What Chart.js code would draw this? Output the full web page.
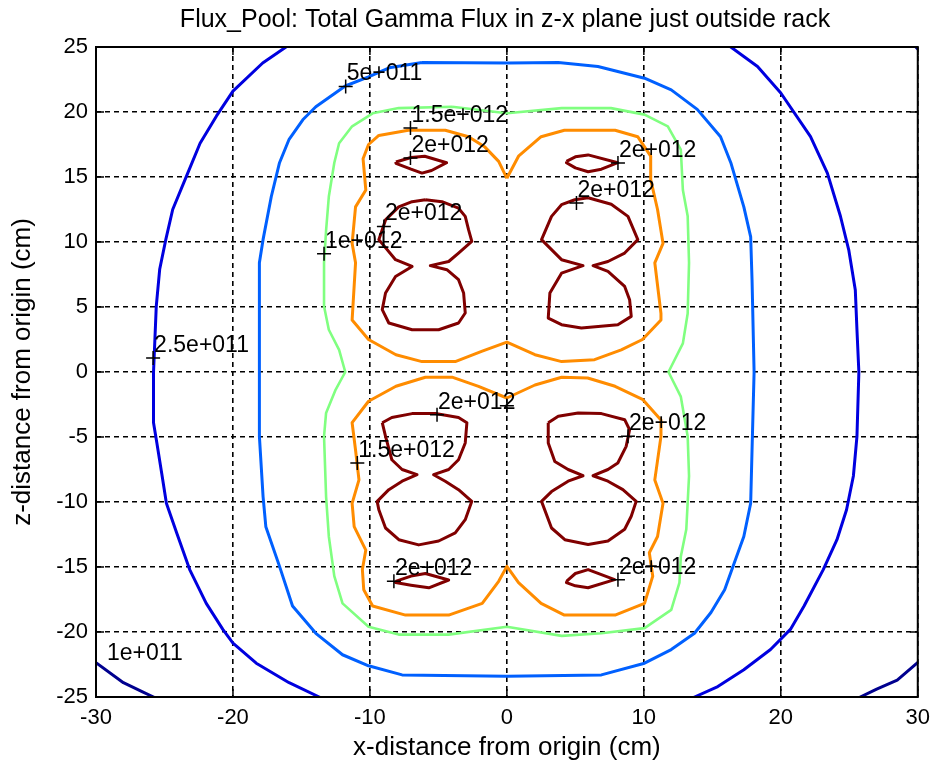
<!DOCTYPE html>
<html>
<head>
<meta charset="utf-8">
<title>Flux_Pool</title>
<script src="https://cdn.jsdelivr.net/npm/chart.js@4.4.1/dist/chart.umd.min.js"></script>
<style>
	html, body { margin: 0; padding: 0; background: #fff; }
	#wrap { width: 938px; height: 772px; }
</style>
</head>
<body>
<div id="wrap"><canvas id="fluxChart" width="938" height="772"></canvas></div>
<script>
// contour levels and tick values
const levels = [1e11, 2.5e11, 5e11, 1e12, 1.5e12, 2e12];
const xTickValues = [-30, -20, -10, 0, 10, 20, 30];
const yTickValues = [-25, -20, -15, -10, -5, 0, 5, 10, 15, 20, 25];

// contour paths, [x, z] in cm
const contour1e11 = [
	[[-30.5, -22.0], [-29.95, -22.4], [-28.0, -23.9], [-26.6, -24.6], [-25.8, -25.0], [-25.3, -25.3]],
	[[25.3, -25.3], [25.8, -25.0], [27.0, -24.4], [28.5, -23.7], [30.05, -22.3], [30.6, -21.8]],
	[[29.6, 25.3], [30.3, 24.5]]
];
const contour2_5e11 = [
	[[-15.6, 25.4], [-16.13, 25.0], [-17.83, 23.77], [-20.0, 21.6], [-21.2, 19.7], [-22.4, 17.6], [-23.4, 15.05],
	 [-24.4, 12.5], [-24.9, 10.2], [-25.35, 7.9], [-25.6, 5.05], [-25.7, 2.5], [-25.8, 0], [-25.8, -3.9],
	 [-25.55, -5.5], [-25.2, -7.8], [-24.86, -10.1], [-24.1, -12.4], [-23.16, -15.2], [-21.95, -17.8],
	 [-20.74, -19.8], [-20.0, -20.85], [-18.3, -22.4], [-15.9, -23.9], [-13.7, -25.0], [-13.0, -25.4]],
	[[15.9, 25.4], [16.35, 25.0], [18.3, 23.5], [20.0, 21.46], [22.17, 18.1], [23.4, 15.3], [24.35, 12.0],
	 [24.96, 9.4], [25.44, 6.3], [25.56, 3.25], [25.7, 0], [25.56, -4.95], [25.3, -8.0], [24.8, -10.6],
	 [24.1, -12.9], [23.1, -15.2], [21.7, -18.0], [20.7, -19.8], [19.25, -21.35], [17.3, -22.9],
	 [15.4, -24.2], [13.7, -25.0], [13.0, -25.4]]
];
const contour5e11 = [
	[[-6.2, 23.8], [0.1, 23.77], [3.75, 23.8], [6.65, 23.5], [10.05, 22.6], [12.0, 21.7], [13.9, 20.2],
	 [15.6, 18.1], [16.35, 16.1], [17.3, 12.7], [17.8, 10.4], [17.9, 7.1], [18.05, 0], [17.9, -6.0],
	 [17.8, -10.1], [17.3, -12.65], [16.6, -14.7], [15.9, -16.75], [14.9, -18.5], [13.7, -20.1],
	 [12.0, -21.35], [10.05, -22.4], [6.9, -23.3], [0, -23.4], [-7.65, -23.3], [-10.1, -22.6],
	 [-12.0, -21.75], [-13.95, -20.1], [-15.65, -18.0], [-16.6, -14.95], [-17.6, -11.9], [-17.8, -9.6],
	 [-18.07, -4.95], [-18.07, 0], [-18.07, 8.4], [-17.8, 10.2], [-17.2, 13.5], [-16.6, 16.1],
	 [-15.9, 17.9], [-14.9, 19.4], [-13.95, 20.4], [-11.8, 22.0], [-10.1, 22.7], [-8.6, 23.4], [-6.2, 23.8]]
];
const contour1e12 = [
	[[-4.0, 20.4], [-7.9, 20.3], [-9.8, 19.9], [-11.3, 18.9], [-12.25, 17.6], [-12.6, 16.1], [-13.0, 13.5],
	 [-13.2, 10.9], [-13.35, 8.4], [-13.35, 5.05], [-13.0, 3.25], [-12.25, 1.7], [-11.8, 0], [-12.5, -1.35],
	 [-13.2, -3.15], [-13.35, -4.95], [-13.2, -9.6], [-13.0, -12.65], [-12.6, -15.7], [-12.0, -17.8],
	 [-10.1, -19.6], [-7.9, -20.2], [-4.25, -20.2], [0, -19.6], [4.0, -20.3], [6.9, -20.1], [10.05, -19.7],
	 [12.0, -18.3], [12.6, -16.2], [12.7, -14.2], [13.1, -12.1], [13.3, -8.0], [13.2, -4.95], [12.7, -1.9],
	 [11.8, 0], [12.85, 2.2], [13.2, 4.5], [13.3, 8.4], [13.2, 12.0], [12.85, 14.0], [12.7, 17.1],
	 [11.75, 18.9], [10.05, 19.8], [7.6, 20.3], [4.0, 20.3], [0, 19.9], [-4.0, 20.4]]
];
const contour1_5e12 = [
	[[0, 14.9], [-0.6, 16.2], [-1.6, 17.3], [-2.8, 18.1], [-4.5, 18.6], [-7.2, 18.6], [-9.35, 18.2],
	 [-10.1, 17.5], [-10.5, 16.4], [-10.3, 14.0], [-11.05, 12.7], [-11.3, 9.9], [-11.05, 8.4], [-11.3, 4.0],
	 [-10.1, 2.5], [-8.1, 1.33], [-6.2, 0.8], [-3.77, 0.8], [-1.8, 1.6], [0, 2.3], [2.05, 1.33], [4.0, 0.8],
	 [6.4, 0.95], [8.35, 1.7], [9.9, 2.5], [11.25, 4.0], [11.25, 4.5], [10.8, 8.4], [11.4, 9.9], [11.0, 12.5],
	 [10.5, 14.8], [10.5, 16.6], [9.55, 18.1], [7.9, 18.6], [4.2, 18.6], [2.5, 18.1], [0.85, 16.6], [0, 14.9]],
	[[0, -2.0], [-2.07, -1.1], [-4.0, -0.4], [-5.95, -0.4], [-8.1, -1.1], [-10.1, -2.25], [-11.3, -3.9],
	 [-11.05, -6.0], [-10.8, -8.3], [-11.3, -10.1], [-11.15, -11.9], [-10.3, -13.7], [-10.55, -15.2],
	 [-10.45, -16.75], [-9.8, -18.0], [-7.4, -18.7], [-4.25, -18.7], [-1.8, -17.8], [-0.6, -16.1],
	 [0, -14.95], [0.85, -16.2], [2.5, -17.8], [4.2, -18.7], [7.9, -18.7], [10.05, -17.8], [10.65, -15.7],
	 [10.4, -13.9], [11.0, -12.65], [11.4, -10.1], [10.8, -8.3], [11.25, -4.95], [11.25, -3.7], [9.9, -2.1],
	 [7.9, -1.1], [5.9, -0.46], [4.0, -0.4], [2.05, -1.0], [0, -2.0]]
];
const contour2e12 = [
	// upper pair
	[[-8.1, 16.15], [-7.0, 16.5], [-6.0, 16.6], [-4.4, 16.1], [-5.5, 15.5], [-6.2, 15.3], [-7.0, 15.6], [-8.1, 16.05], [-8.1, 16.15]],
	[[4.35, 16.2], [5.0, 16.55], [5.93, 16.7], [8.1, 16.1], [6.9, 15.6], [5.93, 15.4], [5.0, 15.7], [4.35, 16.1], [4.35, 16.2]],
	[[-5.95, 13.25], [-4.74, 13.1], [-3.53, 12.6], [-3.04, 11.97], [-2.8, 10.95], [-2.56, 10.05], [-3.53, 9.15],
	 [-4.25, 8.5], [-5.59, 8.18], [-4.38, 7.87], [-3.53, 7.1], [-3.16, 6.08], [-3.04, 4.54], [-3.53, 3.77],
	 [-4.98, 3.25], [-6.92, 3.25], [-8.62, 3.77], [-9.1, 4.8], [-8.86, 6.08], [-8.13, 7.35], [-6.92, 8.12],
	 [-8.13, 8.64], [-9.35, 10.18], [-8.86, 11.7], [-7.9, 12.7], [-6.92, 13.1], [-5.95, 13.25]],
	[[5.93, 13.4], [7.62, 12.9], [8.84, 11.97], [9.56, 10.18], [8.6, 9.15], [7.38, 8.5], [6.29, 8.18],
	 [7.38, 7.74], [8.6, 6.58], [8.96, 5.56], [9.08, 4.28], [8.1, 3.64], [5.44, 3.38], [3.99, 3.64],
	 [3.02, 4.15], [3.14, 6.08], [3.99, 7.6], [5.56, 8.18], [3.99, 8.64], [2.53, 10.18], [3.26, 11.97],
	 [3.99, 12.87], [4.96, 13.25], [5.93, 13.4]],
	// lower pair
	[[-9.1, -3.9], [-8.4, -3.5], [-6.92, -3.2], [-5.22, -3.2], [-3.53, -3.5], [-2.92, -3.9], [-3.04, -5.46],
	 [-3.53, -6.75], [-4.25, -7.5], [-5.35, -7.9], [-4.5, -8.4], [-3.53, -9.05], [-2.56, -9.95], [-3.04, -11.36],
	 [-3.77, -12.38], [-4.98, -13.0], [-6.44, -13.3], [-7.89, -12.9], [-8.86, -12.0], [-9.35, -10.6],
	 [-9.47, -9.95], [-8.62, -9.05], [-7.65, -8.4], [-6.56, -7.9], [-7.65, -7.5], [-8.4, -6.75],
	 [-8.86, -4.95], [-9.1, -3.9]],
	[[3.02, -3.9], [3.75, -3.4], [5.2, -3.15], [6.9, -3.2], [8.6, -3.67], [8.96, -4.44], [8.71, -5.72],
	 [8.1, -7.0], [7.38, -7.5], [6.29, -7.98], [7.38, -8.4], [8.47, -9.05], [9.44, -9.95], [9.08, -11.1],
	 [8.6, -12.1], [7.38, -13.0], [5.93, -13.27], [4.23, -12.9], [3.26, -12.0], [2.53, -9.95], [3.26, -9.2],
	 [4.47, -8.4], [5.56, -7.98], [4.47, -7.5], [3.5, -6.88], [3.02, -5.46], [3.02, -3.9]],
	[[-8.13, -16.1], [-7.0, -15.7], [-5.95, -15.5], [-4.25, -16.0], [-5.7, -16.6], [-7.0, -16.4], [-8.13, -16.2], [-8.13, -16.1]],
	[[4.35, -16.1], [5.0, -15.5], [5.93, -15.2], [7.87, -15.97], [5.93, -16.6], [5.0, -16.45], [4.35, -16.2], [4.35, -16.1]]
];
const contours = [contour1e11, contour2_5e11, contour5e11, contour1e12, contour1_5e12, contour2e12];

// clabel markers (+) and their texts
const markerX = [-11.77, -7.04, -7.04, -8.98, -13.35, -25.83, 8.11, 5.08, -5.1, 8.84, -10.92, -8.25, 8.11, 0];
const markerY = [21.97, 18.77, 16.46, 11.2, 9.1, 1.08, 16.08, 13.0, -3.28, -4.95, -7.0, -16.1, -15.98, -2.6];
const labelText = ['5e+011', '1.5e+012', '2e+012', '2e+012', '1e+012', '2.5e+011', '2e+012', '2e+012',
	'2e+012', '2e+012', '1.5e+012', '2e+012', '2e+012', '1e+011'];
const labelX = [-11.77, -7.04, -7.04, -8.98, -13.35, -25.83, 8.11, 5.08, -5.1, 8.84, -10.92, -8.25, 8.11, -29.27];
const labelY = [21.97, 18.77, 16.46, 11.2, 9.1, 1.08, 16.08, 13.0, -3.28, -4.95, -7.0, -16.1, -15.98, -22.6];

// jet colours for the six levels
const levelColors = ['#00008f', '#0000df', '#0060ff', '#80ff80', '#ff8c00', '#800000'];
const FONT = "'Liberation Sans', Arial, Helvetica, sans-serif";

let datasets = [{
	label: 'labels',
	data: markerX.map((x, i) => ({x: x, y: markerY[i]})),
	showLine: false,
	pointStyle: 'cross',
	pointRadius: 7,
	borderColor: '#000',
	borderWidth: 1.5
}];
for (let k = levels.length - 1; k >= 0; k--) {
	contours[k].forEach(function (path) {
		datasets.push({
			label: levels[k].toExponential(),
			data: path.map(p => ({x: p[0], y: p[1]})),
			showLine: true,
			pointRadius: 0,
			borderColor: levelColors[k],
			borderWidth: k === 3 ? 2.6 : 3,
			borderJoinStyle: 'round',
			tension: 0
		});
	});
}

// title, axes box with inner ticks, contour labels
const fluxDecor = {
	id: 'fluxDecor',
	afterDatasetsDraw(chart) {
		const ctx = chart.ctx;
		const a = chart.chartArea;
		const xs = chart.scales.x, ys = chart.scales.y;
		ctx.save();
		ctx.beginPath();
		ctx.rect(a.left, a.top, a.right - a.left, a.bottom - a.top);
		ctx.clip();
		ctx.fillStyle = '#000';
		ctx.font = '23px ' + FONT;
		ctx.textAlign = 'left';
		ctx.textBaseline = 'alphabetic';
		labelText.forEach(function (t, i) {
			ctx.fillText(t, xs.getPixelForValue(labelX[i]) + 1, ys.getPixelForValue(labelY[i]) - 6);
		});
		ctx.restore();

		ctx.save();
		ctx.strokeStyle = '#000';
		ctx.lineWidth = 2;
		ctx.strokeRect(a.left, a.top, a.right - a.left, a.bottom - a.top);
		ctx.lineWidth = 1.5;
		ctx.beginPath();
		xTickValues.forEach(function (v) {
			const px = xs.getPixelForValue(v);
			ctx.moveTo(px, a.bottom); ctx.lineTo(px, a.bottom - 8);
			ctx.moveTo(px, a.top); ctx.lineTo(px, a.top + 8);
		});
		yTickValues.forEach(function (v) {
			const py = ys.getPixelForValue(v);
			ctx.moveTo(a.left, py); ctx.lineTo(a.left + 8, py);
			ctx.moveTo(a.right, py); ctx.lineTo(a.right - 8, py);
		});
		ctx.stroke();

		ctx.fillStyle = '#000';
		ctx.font = '25px ' + FONT;
		ctx.textAlign = 'center';
		ctx.textBaseline = 'alphabetic';
		ctx.fillText('Flux_Pool: Total Gamma Flux in z-x plane just outside rack', 505, 27);
		ctx.restore();
	}
};

const ctx = document.getElementById('fluxChart').getContext('2d');
const fluxChart = new Chart(ctx, {
	type: 'scatter',
	data: {datasets: datasets},
	options: {
		responsive: false,
		animation: false,
		devicePixelRatio: 1,
		layout: {padding: {top: 47, right: 17, left: 0, bottom: 0}},
		plugins: {
			legend: {display: false},
			tooltip: {enabled: false},
			title: {display: false}
		},
		scales: {
			x: {
				type: 'linear',
				min: -30,
				max: 30,
				afterBuildTicks: function (scale) {
					scale.ticks = xTickValues.map(v => ({value: v}));
				},
				afterFit: function (scale) {
					scale.height = 75;
				},
				ticks: {
					color: '#000',
					padding: 8,
					maxRotation: 0,
					font: {family: FONT, size: 22}
				},
				grid: {color: '#000', lineWidth: 1.6, drawTicks: false},
				border: {display: false, dash: [5, 4]},
				title: {
					display: true,
					text: 'x-distance from origin (cm)',
					color: '#000',
					font: {family: FONT, size: 26},
					padding: {top: 0, bottom: 9}
				}
			},
			y: {
				type: 'linear',
				min: -25,
				max: 25,
				afterBuildTicks: function (scale) {
					scale.ticks = yTickValues.map(v => ({value: v}));
				},
				afterFit: function (scale) {
					scale.width = 96;
				},
				ticks: {
					color: '#000',
					padding: 8,
					font: {family: FONT, size: 22}
				},
				grid: {color: '#000', lineWidth: 1.6, drawTicks: false},
				border: {display: false, dash: [5, 4]},
				title: {
					display: true,
					text: 'z-distance from origin (cm)',
					color: '#000',
					font: {family: FONT, size: 26},
					padding: {top: 7, bottom: 0}
				}
			}
		}
	},
	plugins: [fluxDecor]
});
</script>
</body>
</html>
